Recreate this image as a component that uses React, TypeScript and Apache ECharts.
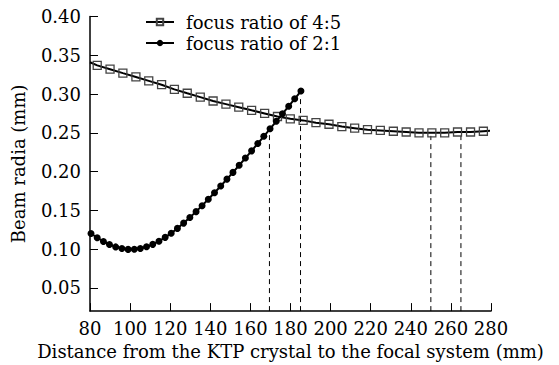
import React, { useEffect, useRef } from "react";
import * as echarts from "echarts";

const FONT = "DejaVu Serif";

// focus ratio 4:5 (open squares)
const r45X = [83.6, 90.0, 96.4, 102.9, 109.3, 115.7, 122.1, 128.5, 135.0, 141.4, 147.8, 154.2, 160.6, 167.1, 173.5, 179.9, 186.3, 192.7, 199.2, 205.6, 212.0, 218.4, 224.8, 231.3, 237.7, 244.1, 250.5, 256.9, 263.3, 269.8, 276.2];
const r45Y = [0.337, 0.332, 0.327, 0.322, 0.317, 0.312, 0.306, 0.301, 0.296, 0.291, 0.287, 0.283, 0.279, 0.275, 0.271, 0.268, 0.266, 0.263, 0.261, 0.258, 0.256, 0.254, 0.253, 0.252, 0.251, 0.250, 0.250, 0.250, 0.251, 0.251, 0.252];
// line end points (no marker)
const r45Start = [80, 0.341];
const r45End = [279.5, 0.2525];

// focus ratio 2:1 (filled dots)
const r21X = [80.5, 83.6, 86.7, 89.7, 92.8, 95.9, 99.0, 102.1, 105.1, 108.2, 111.3, 114.4, 117.5, 120.5, 123.6, 126.7, 129.8, 132.9, 135.9, 139.0, 142.1, 145.2, 148.3, 151.3, 154.4, 157.5, 160.6, 163.7, 166.7, 169.8, 172.9, 176.0, 179.1, 182.1, 185.2];
const r21Y = [0.1201, 0.1146, 0.1098, 0.1059, 0.1028, 0.1007, 0.0996, 0.0997, 0.1008, 0.1029, 0.1061, 0.1102, 0.1151, 0.1205, 0.1267, 0.1335, 0.1407, 0.1483, 0.1560, 0.1642, 0.1727, 0.1814, 0.1902, 0.1989, 0.2081, 0.2174, 0.2267, 0.2362, 0.2455, 0.2551, 0.2648, 0.2745, 0.2843, 0.2939, 0.3038];

// dashed markers
const dashX = [169.5, 185, 250, 265];
const dashTop = [0.254, 0.296, 0.246, 0.246];

const yTicks = [0.05, 0.10, 0.15, 0.20, 0.25, 0.30, 0.35, 0.40];

const names = ["focus ratio of 4:5", "focus ratio of 2:1"];

export default function App() {
  const ref = useRef<HTMLDivElement>(null);
  useEffect(() => {
    if (!ref.current) return;
    const chart = echarts.init(ref.current, null, { renderer: "svg" });
    const yMin = 0.02;
    const r45Data: any[] = [
      { value: r45Start, symbol: "none" },
      ...r45X.map((x, i) => [x, r45Y[i]]),
      { value: r45End, symbol: "none" },
    ];
    const r21Data = r21X.map((x, i) => [x, r21Y[i]]);
    const dashSeries = dashX.map((x, i) => ({
      type: "line",
      name: "dash" + i,
      data: [
        [x, yMin],
        [x, dashTop[i]],
      ],
      symbol: "none",
      silent: true,
      lineStyle: { color: "#000", width: 1, type: [5, 4] },
      z: 1,
    }));
    chart.setOption({
      animation: false,
      backgroundColor: "#fff",
      textStyle: { fontFamily: FONT },
      grid: { left: 90, right: 68, top: 16.5, bottom: 50 },
      legend: {
        data: names,
        orient: "vertical",
        left: 140,
        top: 8,
        itemWidth: 28,
        itemHeight: 8,
        itemGap: 3,
        textStyle: { fontFamily: FONT, fontSize: 18, color: "#000", padding: [0, 0, 0, 7] },
      },
      xAxis: {
        type: "value",
        min: 80,
        max: 280,
        interval: 20,
        name: "Distance from the KTP crystal to the focal system (mm)",
        nameLocation: "middle",
        nameGap: 29,
        nameTextStyle: { fontFamily: FONT, fontSize: 18, color: "#000" },
        axisLine: { show: true, onZero: false, lineStyle: { color: "#000", width: 1.5 } },
        axisTick: { show: true, inside: true, length: 8, lineStyle: { color: "#000", width: 1 } },
        axisLabel: { fontFamily: FONT, fontSize: 18, color: "#000", margin: 8 },
        splitLine: { show: false },
      },
      yAxis: {
        type: "value",
        min: yMin,
        max: 0.4,
        name: "Beam radia (mm)",
        nameLocation: "middle",
        nameGap: 63,
        nameTextStyle: { fontFamily: FONT, fontSize: 18, color: "#000" },
        axisLine: { show: true, onZero: false, lineStyle: { color: "#000", width: 1.5 } },
        axisTick: { show: true, inside: true, length: 8, customValues: yTicks, lineStyle: { color: "#000", width: 1 } },
        axisLabel: {
          fontFamily: FONT,
          fontSize: 18,
          color: "#000",
          margin: 9,
          customValues: yTicks,
          formatter: (v: number) => v.toFixed(2),
        },
        splitLine: { show: false },
      },
      series: [
        ...dashSeries,
        {
          type: "line",
          name: names[0],
          data: r45Data,
          symbol: "rect",
          symbolSize: 8,
          lineStyle: { color: "#000", width: 2 },
          itemStyle: { color: "rgba(255,255,255,0)", borderColor: "#444", borderWidth: 1.3 },
          z: 3,
        },
        {
          type: "line",
          name: names[1],
          data: r21Data,
          symbol: "circle",
          symbolSize: 7,
          lineStyle: { color: "#000", width: 2 },
          itemStyle: { color: "#000", borderWidth: 0 },
          z: 4,
        },
      ],
    });
    return () => chart.dispose();
  }, []);
  return (
    <div
      ref={ref}
      style={{ position: "absolute", left: 0, top: 0, width: 559, height: 365 }}
    />
  );
}
